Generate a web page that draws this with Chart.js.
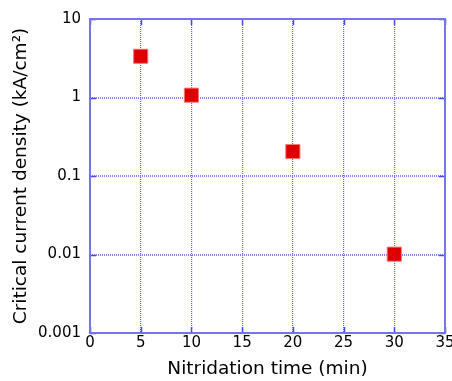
<!DOCTYPE html>
<html>
<head>
<meta charset="UTF-8">
<title>Critical current density</title>
<style>
  html, body { margin: 0; padding: 0; background: #fff; }
  #wrap { width: 452px; height: 381px; }
</style>
</head>
<body>
<div id="wrap"><canvas id="chart" width="452" height="381"></canvas></div>
<script src="https://cdn.jsdelivr.net/npm/chart.js"></script>
<script>
// nitridation time (min) and critical current density (kA/cm2)
const times = [5, 10, 20, 30];
const jc = [3.35, 1.07, 0.205, 0.0101];
const yTicks = [0.001, 0.01, 0.1, 1, 10];
const yLabels = ['0.001', '0.01', '0.1', '1', '10'];
const xTicks = [0, 5, 10, 15, 20, 25, 30, 35];

const font = "'DejaVu Sans', sans-serif";
const frameBlue = '#7474ec';

// box around the plot with short tick marks pointing inward
const frame = {
  id: 'frame',
  beforeLayout(chart) {
    // let the "35" label hang a bit further past the plot edge
    const x = chart.scales.x;
    if (x && !x._padPatched) {
      const orig = x.getPadding.bind(x);
      x.getPadding = () => Object.assign({}, orig(), { right: 7 });
      x._padPatched = true;
    }
  },
  afterDatasetsDraw(chart) {
    const { ctx, chartArea: a, scales } = chart;
    ctx.save();
    ctx.strokeStyle = '#4848f4';
    ctx.lineWidth = 1.5;
    ctx.beginPath();
    scales.x.ticks.forEach(t => {
      const px = Math.round(scales.x.getPixelForValue(t.value)) + 0.5;
      ctx.moveTo(px, a.bottom); ctx.lineTo(px, a.bottom - 6);
      ctx.moveTo(px, a.top); ctx.lineTo(px, a.top + 6);
    });
    scales.y.ticks.forEach(t => {
      const py = Math.round(scales.y.getPixelForValue(t.value)) + 0.5;
      ctx.moveTo(a.left, py); ctx.lineTo(a.left + 6, py);
      ctx.moveTo(a.right, py); ctx.lineTo(a.right - 6, py);
    });
    ctx.stroke();
    ctx.strokeStyle = frameBlue;
    ctx.lineWidth = 2;
    ctx.strokeRect(a.left, a.top, a.right - a.left, a.bottom - a.top);
    ctx.restore();
  }
};

new Chart(document.getElementById('chart'), {
  type: 'scatter',
  data: {
    datasets: [{
      data: times.map((t, i) => ({ x: t, y: jc[i] })),
      pointStyle: 'rect',
      pointRadius: 10,
      pointHoverRadius: 10,
      backgroundColor: '#dd0000',
      borderColor: 'rgba(240, 120, 120, 0.9)',
      borderWidth: 1,
      clip: false
    }]
  },
  options: {
    responsive: false,
    animation: false,
    layout: { autoPadding: false, padding: { top: 19, right: 0, left: 0, bottom: 0 } },
    plugins: { legend: { display: false }, tooltip: { enabled: false } },
    scales: {
      x: {
        type: 'linear',
        min: 0, max: 35,
        afterBuildTicks: s => { s.ticks = xTicks.map(v => ({ value: v })); },
        afterFit: s => { s.height = 48; },
        grid: { color: '#6464ff', lineWidth: 1.2, drawTicks: false },
        border: { display: false, dash: [1, 1] },
        ticks: { color: '#000', padding: 1, maxRotation: 0, font: { family: font, size: 15 } },
        title: { display: true, text: 'Nitridation time (min)', color: '#000', padding: { top: 0, bottom: 1 }, font: { family: font, size: 18.5 } }
      },
      y: {
        type: 'logarithmic',
        min: 0.001, max: 10,
        afterBuildTicks: s => { s.ticks = yTicks.map(v => ({ value: v })); },
        afterFit: s => { s.width = 90; },
        grid: { color: 'rgba(110, 110, 240, 0.85)', lineWidth: 2, drawTicks: false },
        border: { display: false, dash: [1, 1] },
        ticks: {
          color: '#000', padding: 9,
          callback: v => { const i = yTicks.indexOf(v); return i >= 0 ? yLabels[i] : ''; },
          font: { family: font, size: 15 }
        },
        title: { display: true, text: 'Critical current density (kA/cm²)', color: '#000', padding: { top: 10, bottom: 4 }, font: { family: font, size: 18.5 } }
      }
    }
  },
  plugins: [frame]
});
</script>
</body>
</html>
